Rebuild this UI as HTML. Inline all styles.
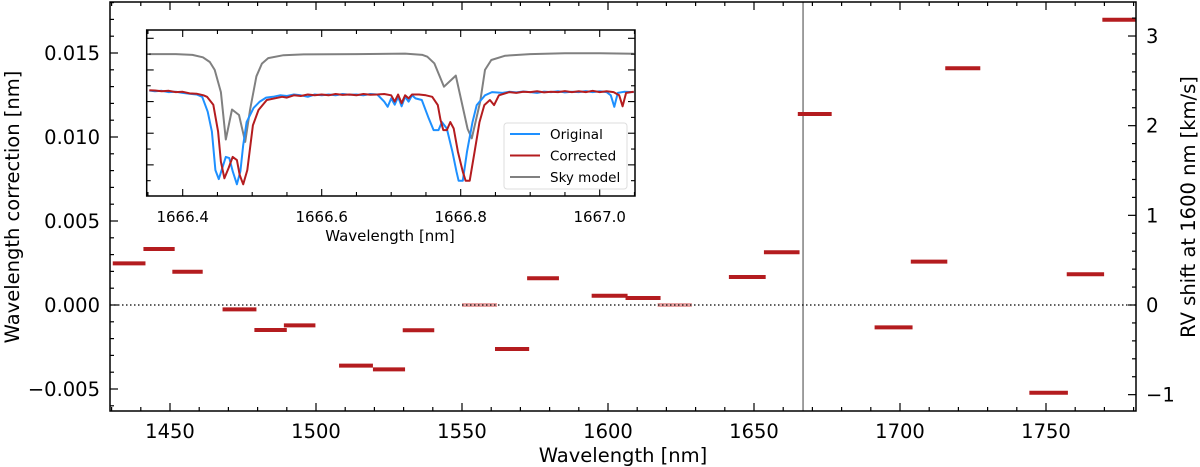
<!DOCTYPE html>
<html><head><meta charset="utf-8">
<style>
html,body{margin:0;padding:0;background:#fff;}
svg{display:block;font-family:"DejaVu Sans","Liberation Sans",sans-serif;}
</style></head>
<body>
<svg id="chart" width="1200" height="467" viewBox="0 0 1200 467" xmlns="http://www.w3.org/2000/svg">
<rect x="0" y="0" width="1200" height="467" fill="#fff"/>
<g id="main"></g>
<g id="inset"></g>
</svg>
<script>
// ---- main chart data ----
const segStart = [1430.4,1440.9,1450.8,1468.0,1478.9,1489.0,1507.9,1519.5,1529.7,1550.0,1561.3,1572.3,1594.4,1606.0,1617.0,1641.4,1653.4,1665.0,1691.3,1703.7,1715.5,1744.3,1757.1,1769.3];
const segEnd   = [1441.6,1451.6,1461.2,1479.6,1490.0,1499.8,1519.5,1530.5,1540.5,1562.0,1573.0,1583.2,1606.7,1618.0,1628.7,1654.0,1665.6,1676.6,1704.3,1716.2,1727.5,1757.5,1769.9,1781.0];
const segValue = [0.00248,0.00333,0.00198,-0.00026,-0.00149,-0.00121,-0.00361,-0.00383,-0.0015,0.0,-0.00262,0.00159,0.00055,0.00042,0.0,0.00167,0.00314,0.01137,-0.00133,0.00258,0.01409,-0.00522,0.00183,0.01698];
const segFaded = [0,0,0,0,0,0,0,0,0,1,0,0,0,0,1,0,0,0,0,0,0,0,0,0];
const xTicks = [1450,1500,1550,1600,1650,1700,1750];
const yTicks = [-0.005,0.000,0.005,0.010,0.015];
const yTickLabels = ["\u22120.005","0.000","0.005","0.010","0.015"];
const rvTicks = [-1,0,1,2,3];
const rvTickLabels = ["\u22121","0","1","2","3"];
const markerLine = [1666.8];

// ---- inset data ----
const skyLam = [1666.352,1666.39,1666.414,1666.429,1666.439,1666.446,1666.455,1666.462,1666.471,1666.481,1666.490,1666.497,1666.506,1666.514,1666.523,1666.545,1666.574,1666.65,1666.72,1666.745,1666.752,1666.762,1666.767,1666.776,1666.793,1666.810,1666.816,1666.828,1666.835,1666.844,1666.864,1666.9,1666.95,1667.0,1667.049];
const skyFlux = [0.90,0.90,0.895,0.88,0.85,0.80,0.66,0.36,0.55,0.515,0.345,0.55,0.76,0.84,0.875,0.893,0.898,0.90,0.903,0.895,0.884,0.842,0.789,0.694,0.764,0.427,0.368,0.60,0.80,0.863,0.89,0.90,0.905,0.905,0.902];
const origLam = [1666.352,1666.36,1666.37,1666.38,1666.39,1666.40,1666.41,1666.42,1666.428,1666.436,1666.442,1666.447,1666.452,1666.462,1666.467,1666.472,1666.478,1666.483,1666.487,1666.492,1666.502,1666.511,1666.52,1666.53,1666.54,1666.55,1666.56,1666.57,1666.58,1666.59,1666.60,1666.61,1666.62,1666.63,1666.64,1666.65,1666.66,1666.67,1666.68,1666.69,1666.695,1666.70,1666.705,1666.71,1666.715,1666.72,1666.725,1666.73,1666.735,1666.744,1666.754,1666.761,1666.768,1666.773,1666.780,1666.788,1666.794,1666.797,1666.803,1666.809,1666.817,1666.823,1666.835,1666.845,1666.86,1666.87,1666.88,1666.89,1666.90,1666.91,1666.92,1666.93,1666.94,1666.95,1666.96,1666.97,1666.98,1666.99,1667.00,1667.01,1667.016,1667.021,1667.026,1667.035,1667.049];
const origFlux = [0.67,0.665,0.668,0.66,0.662,0.655,0.65,0.645,0.63,0.536,0.41,0.167,0.11,0.25,0.243,0.16,0.077,0.16,0.325,0.47,0.56,0.60,0.625,0.63,0.64,0.635,0.645,0.64,0.63,0.645,0.64,0.645,0.64,0.648,0.643,0.645,0.64,0.648,0.645,0.6,0.567,0.62,0.58,0.63,0.57,0.63,0.60,0.64,0.62,0.61,0.494,0.42,0.42,0.47,0.43,0.283,0.157,0.10,0.10,0.283,0.47,0.578,0.64,0.66,0.655,0.662,0.658,0.664,0.66,0.655,0.663,0.66,0.665,0.658,0.662,0.66,0.666,0.66,0.665,0.66,0.64,0.567,0.655,0.662,0.66];
const corrLam = [1666.352,1666.36,1666.37,1666.38,1666.39,1666.40,1666.41,1666.42,1666.43,1666.435,1666.444,1666.451,1666.455,1666.460,1666.466,1666.472,1666.478,1666.482,1666.487,1666.493,1666.501,1666.509,1666.521,1666.543,1666.55,1666.56,1666.57,1666.58,1666.59,1666.60,1666.61,1666.62,1666.63,1666.64,1666.65,1666.66,1666.67,1666.68,1666.69,1666.70,1666.705,1666.71,1666.715,1666.72,1666.725,1666.73,1666.74,1666.75,1666.759,1666.767,1666.771,1666.775,1666.780,1666.785,1666.790,1666.796,1666.803,1666.807,1666.813,1666.820,1666.827,1666.834,1666.842,1666.848,1666.855,1666.87,1666.88,1666.89,1666.90,1666.91,1666.92,1666.93,1666.94,1666.95,1666.96,1666.97,1666.98,1666.99,1667.00,1667.01,1667.02,1667.028,1667.033,1667.038,1667.049];
const corrFlux = [0.672,0.67,0.665,0.668,0.66,0.662,0.652,0.65,0.64,0.63,0.58,0.41,0.22,0.115,0.18,0.25,0.23,0.136,0.077,0.167,0.45,0.547,0.61,0.63,0.625,0.64,0.635,0.645,0.64,0.645,0.64,0.648,0.642,0.645,0.64,0.648,0.643,0.645,0.648,0.64,0.6,0.645,0.59,0.64,0.62,0.645,0.645,0.64,0.63,0.578,0.485,0.42,0.42,0.47,0.43,0.283,0.157,0.10,0.10,0.283,0.47,0.578,0.61,0.578,0.64,0.66,0.655,0.662,0.66,0.665,0.658,0.662,0.66,0.666,0.66,0.665,0.66,0.668,0.66,0.665,0.66,0.64,0.57,0.655,0.662];
const insetXTicks = [1666.4,1666.6,1666.8,1667.0];
const insetXTickLabels = ["1666.4","1666.6","1666.8","1667.0"];

const NS = "http://www.w3.org/2000/svg";
function mk(tag, attrs, parent, text){
  const e = document.createElementNS(NS, tag);
  for (const k in attrs) e.setAttribute(k, attrs[k]);
  if (text !== undefined) e.textContent = text;
  parent.appendChild(e);
  return e;
}
const main = document.getElementById('main');
const inset = document.getElementById('inset');

const L=110, R=1136, T=2, B=411;
const X = nm => 170 + (nm - 1450) * 2.92;
const Y = v => 305 - v * 16800;
const C = 299792.458;
const YR = k => Y(k * 1600 / C);

markerLine.forEach(m=>{
  const l = mk('line',{x1:X(m),x2:X(m),y1:T,y2:B,stroke:'#888','stroke-width':1.6},main);
  
  
});

segValue.forEach((v,i)=>{
  const x1 = Math.max(L, X(segStart[i])), x2 = Math.min(R, X(segEnd[i]));
  const s = mk('line',{x1:x1,x2:x2,y1:Y(v),y2:Y(v),stroke:segFaded[i]?'#e8a3a3':'#b41c1f','stroke-width':4},main);
  
  
});

let zl = mk('line',{x1:L,x2:R,y1:Y(0),y2:Y(0),stroke:'#000','stroke-width':1.3,'stroke-dasharray':'1.5,2.5'},main);



let fr = mk('rect',{x:L,y:T,width:R-L,height:B-T,fill:'none',stroke:'#000','stroke-width':1.5},main);



for (let nm=1430; nm<=1780; nm+=10){
  const x = X(nm); if (x<L||x>R) continue;
  const len = (nm%50===0)?8:4;
  mk('line',{x1:x,x2:x,y1:B,y2:B-len,stroke:'#000','stroke-width':1.2},main);
  mk('line',{x1:x,x2:x,y1:T,y2:T+len,stroke:'#000','stroke-width':1.2},main);
}
xTicks.forEach(t=>{
  const tl = mk('text',{x:X(t),y:438,'text-anchor':'middle','font-size':19.5,fill:'#000'},main,String(t));
  
  
});
for (let k=-6;k<=18;k++){
  const v=k*0.001, y=Y(v); if (y<T||y>B) continue;
  const len = (k%5===0)?8:4;
  mk('line',{x1:L,x2:L+len,y1:y,y2:y,stroke:'#000','stroke-width':1.2},main);
}
yTicks.forEach((t,i)=>{
  const tl = mk('text',{x:100,y:Y(t)+7,'text-anchor':'end','font-size':19.5,fill:'#000'},main,yTickLabels[i]);
  
  
});
for (let k=-6;k<=17;k++){
  const v=k*0.2, y=YR(v); if (y<T||y>B) continue;
  const len = (k%5===0)?8:4;
  mk('line',{x1:R,x2:R-len,y1:y,y2:y,stroke:'#000','stroke-width':1.2},main);
}
rvTicks.forEach((t,i)=>{
  const tl = mk('text',{x:1146,y:YR(t)+7,'text-anchor':'start','font-size':19.5,fill:'#000'},main,rvTickLabels[i]);
  
  
});
let xt = mk('text',{x:623,y:462,'text-anchor':'middle','font-size':19.5,fill:'#000'},main,'Wavelength [nm]');


let yt = mk('text',{x:0,y:0,'text-anchor':'middle','font-size':19.5,fill:'#000',transform:'translate(19,207) rotate(-90)'},main,'Wavelength correction [nm]');


let rt = mk('text',{x:0,y:0,'text-anchor':'middle','font-size':19.5,fill:'#000',transform:'translate(1195,207) rotate(-90)'},main,'RV shift at 1600 nm [km/s]');



// ---- inset ----
const IL=146.7, IR=635, IT=30, IB=196;
const IX = l => 182.7 + (l - 1666.4) * 695;
const IY = f => 196.5 - f * 158.2;
let ibg = mk('rect',{x:IL,y:IT,width:IR-IL,height:IB-IT,fill:'#fff'},inset);


const clip = mk('clipPath',{id:'ic'},inset);
mk('rect',{x:IL,y:IT,width:IR-IL,height:IB-IT},clip);
function series(lam, flux, color, name){
  const d = lam.map((l,i)=>(i?'L':'M')+IX(l).toFixed(1)+','+IY(flux[i]).toFixed(1)).join('');
  const p = mk('path',{d:d,fill:'none',stroke:color,'stroke-width':2,'stroke-linejoin':'round','clip-path':'url(#ic)'},inset);
  
  
}
series(skyLam, skyFlux, '#808080', 'sky-model-line');
series(origLam, origFlux, '#1e90ff', 'original-spectrum-line');
series(corrLam, corrFlux, '#b41c1f', 'corrected-spectrum-line');
let ifr = mk('rect',{x:IL,y:IT,width:IR-IL,height:IB-IT,fill:'none',stroke:'#000','stroke-width':1.5},inset);


for (let k=0;k<=15;k++){
  const l = 1666.35 + k*0.05, x = IX(l); if (x<IL||x>IR) continue;
  const len = (k%4===1)?7:4;
  mk('line',{x1:x,x2:x,y1:IB,y2:IB-len,stroke:'#000','stroke-width':1.1},inset);
  mk('line',{x1:x,x2:x,y1:IT,y2:IT+len,stroke:'#000','stroke-width':1.1},inset);
}
for (let k=1;k<=10;k++){
  const y = IY(k*0.1);
  const len = (k%2===0)?7:4;
  mk('line',{x1:IL,x2:IL+len,y1:y,y2:y,stroke:'#000','stroke-width':1.1},inset);
  mk('line',{x1:IR,x2:IR-len,y1:y,y2:y,stroke:'#000','stroke-width':1.1},inset);
}
insetXTicks.forEach((t,i)=>{
  const tl = mk('text',{x:IX(t),y:222,'text-anchor':'middle','font-size':15,fill:'#000'},inset,insetXTickLabels[i]);
  
  
});
let ixt = mk('text',{x:390,y:241,'text-anchor':'middle','font-size':15,fill:'#000'},inset,'Wavelength [nm]');



const lg = mk('g',{},inset);


mk('rect',{x:504,y:123,width:123,height:66,rx:3,fill:'#fff',stroke:'#ddd','stroke-width':1},lg);
const legNames=['Original','Corrected','Sky model'];
const legColors=['#1e90ff','#b41c1f','#808080'];
legNames.forEach((n,i)=>{
  const y = 134 + i*21.5;
  const g = mk('g',{},lg);
  
  
  mk('line',{x1:510,x2:540,y1:y,y2:y,stroke:legColors[i],'stroke-width':2},g);
  mk('text',{x:550,y:y+5,'font-size':13.5,fill:'#000'},g,n);
});
</script>
</body></html>
